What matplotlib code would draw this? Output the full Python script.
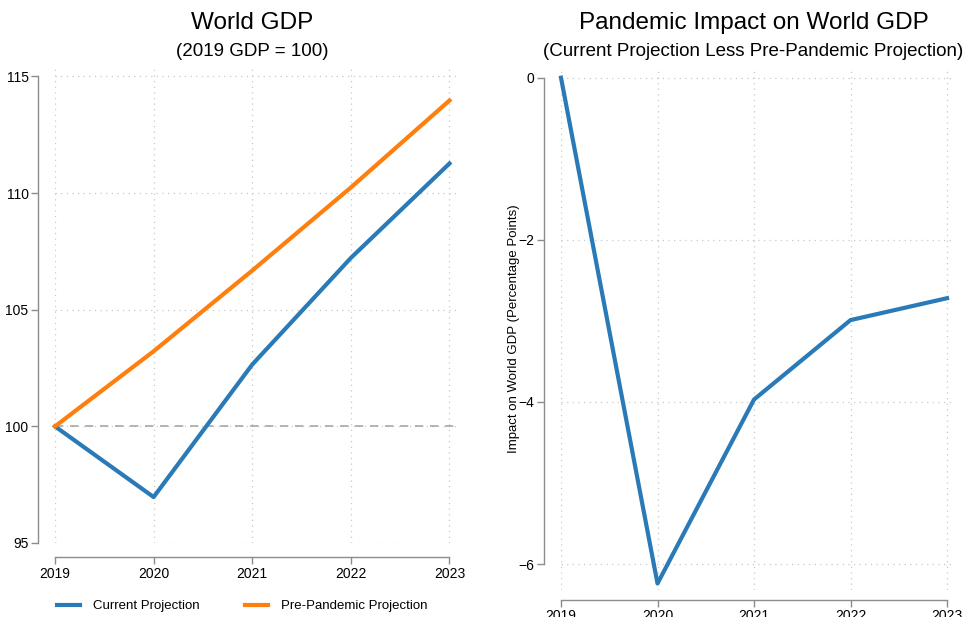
import matplotlib.pyplot as plt

plt.rcParams['font.family'] = ['Liberation Sans', 'DejaVu Sans']

years = [2019, 2020, 2021, 2022, 2023]
current = [100, 96.97, 102.65, 107.22, 111.27]
pre_pandemic = [100, 103.22, 106.68, 110.24, 113.97]
impact = [0, -6.24, -3.97, -2.99, -2.72]

W, H = 974, 617
BLUE = "#2a7ab8"
ORANGE = "#ff7f0e"
GRID = "#c8c8c8"
SPINE = "#8c8c8c"


def px_axes(fig, x0, x1, top, bottom):
    return fig.add_axes([x0 / W, 1 - bottom / H, (x1 - x0) / W, (bottom - top) / H])


def stata_style(ax, yticks, ylo, yhi, xout, yout):
    ax.set_xticks(years)
    ax.set_yticks(yticks)
    for s in ["top", "right"]:
        ax.spines[s].set_visible(False)
    ax.spines["left"].set_position(("outward", xout))
    ax.spines["bottom"].set_position(("outward", yout))
    ax.spines["left"].set_bounds(ylo, yhi)
    ax.spines["bottom"].set_bounds(years[0], years[-1])
    for s in ["left", "bottom"]:
        ax.spines[s].set_color(SPINE)
        ax.spines[s].set_linewidth(1.0)
    ax.tick_params(axis="both", colors=SPINE, labelcolor="black", labelsize=10,
                   length=5, width=1.0, pad=2)
    ax.grid(True, color=GRID, linestyle=(0, (1, 3.5)), linewidth=0.9)
    ax.set_axisbelow(True)


fig = plt.figure(figsize=(W / 100, H / 100), dpi=100)

# left: world GDP
ax1 = px_axes(fig, 55, 460, 66, 543)
ax1.set_xlim(2019, 2023.107)
ax1.set_ylim(95, 115.45)
stata_style(ax1, [95, 100, 105, 110, 115], 95, 115, 12, 10)
ax1.axhline(100, color="#a8a8a8", linestyle=(0, (5, 4)), linewidth=1.2, zorder=1)
ax1.plot(years, current, color=BLUE, linewidth=3, label="Current Projection",
         clip_on=False, zorder=3)
ax1.plot(years, pre_pandemic, color=ORANGE, linewidth=3, label="Pre-Pandemic Projection",
         clip_on=False, zorder=3)
fig.text(252 / W, 1 - 23 / H, "World GDP", ha="center", va="center", fontsize=17.5)
fig.text(252 / W, 1 - 52 / H, "(2019 GDP = 100)", ha="center", va="center", fontsize=13.5)
ax1.legend(loc="center left", bbox_to_anchor=(57 / W, 1 - 606 / H),
           bbox_transform=fig.transFigure, ncol=2, frameon=False, fontsize=9.5,
           handlelength=1.75, handletextpad=1.0, columnspacing=3.4,
           borderpad=0, borderaxespad=0)

# right: impact
ax2 = px_axes(fig, 561, 953, 68, 590)
ax2.set_xlim(2019, 2023.062)
ax2.set_ylim(-6.32, 0.12)
stata_style(ax2, [-6, -4, -2, 0], -6, 0, 12, 7)
ax2.plot(years, impact, color=BLUE, linewidth=3, clip_on=False, zorder=3)
ax2.set_ylabel("Impact on World GDP (Percentage Points)", fontsize=9.5, labelpad=-1)
fig.text(754 / W, 1 - 23 / H, "Pandemic Impact on World GDP", ha="center", va="center",
         fontsize=17.5)
fig.text(753 / W, 1 - 52 / H, "(Current Projection Less Pre-Pandemic Projection)",
         ha="center", va="center", fontsize=13.5)

fig.savefig("out.png", dpi=100)
